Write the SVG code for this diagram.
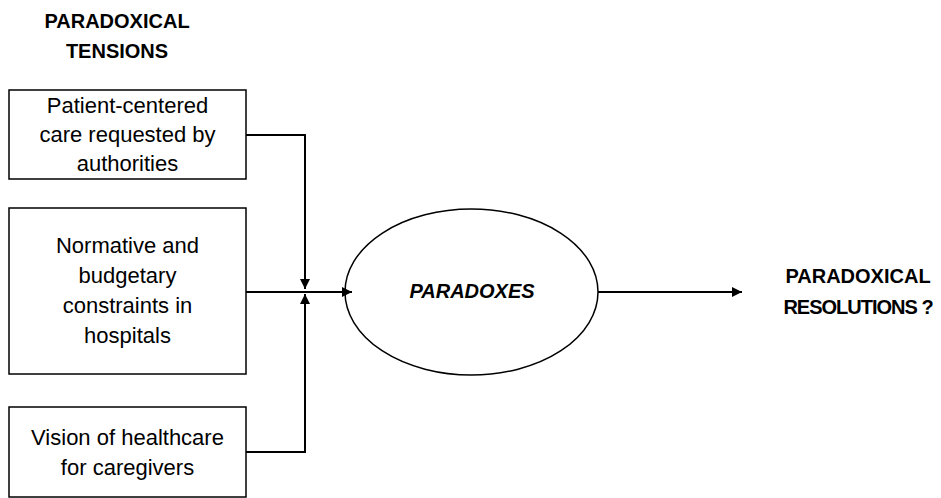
<svg xmlns="http://www.w3.org/2000/svg" width="941" height="498" viewBox="0 0 941 498">
<defs>
<style>
.box{fill:#fff;stroke:#000;stroke-width:1.5}
.t{font-family:"Liberation Sans",Arial,sans-serif;font-size:22px;fill:#000;text-anchor:middle}
.h{font-family:"Liberation Sans",Arial,sans-serif;font-size:20px;font-weight:bold;fill:#000;text-anchor:middle}
.c{fill:none;stroke:#000;stroke-width:2}
</style>
<marker id="ah" viewBox="0 0 10 10" refX="10" refY="5" markerWidth="5" markerHeight="5" orient="auto" markerUnits="strokeWidth">
<path d="M0,0 L10,5 L0,10 Z" fill="#000"/>
</marker>
</defs>
<rect width="941" height="498" fill="#fff"/>
<g id="header-tensions">
<text class="h" x="117" y="28">PARADOXICAL</text>
<text class="h" x="117" y="58">TENSIONS</text>
</g>
<g id="node-patient">
<rect class="box" x="9" y="90" width="237" height="89"/>
<text class="t" x="127.5" y="113">Patient-centered</text>
<text class="t" x="127.5" y="142">care requested by</text>
<text class="t" x="127.5" y="171">authorities</text>
</g>
<g id="node-normative">
<rect class="box" x="9" y="208" width="237" height="166"/>
<text class="t" x="127.5" y="253">Normative and</text>
<text class="t" x="127.5" y="283">budgetary</text>
<text class="t" x="127.5" y="313">constraints in</text>
<text class="t" x="127.5" y="343">hospitals</text>
</g>
<g id="node-vision">
<rect class="box" x="9" y="407" width="237" height="90"/>
<text class="t" x="127.5" y="445">Vision of healthcare</text>
<text class="t" x="127.5" y="475">for caregivers</text>
</g>
<g id="node-paradoxes">
<ellipse cx="471.5" cy="292" rx="126.5" ry="83" fill="#fff" stroke="#000" stroke-width="1.5"/>
<text class="h" x="472" y="298" font-style="italic">PARADOXES</text>
</g>
<g id="header-resolutions">
<text class="h" x="858" y="283">PARADOXICAL</text>
<text class="h" x="858" y="314" letter-spacing="-1">RESOLUTIONS ?</text>
</g>
<g id="connectors">
<path class="c" d="M246 135 H305 V289" marker-end="url(#ah)"/>
<path class="c" d="M246 452 H305 V294" marker-end="url(#ah)"/>
<path class="c" d="M246 292 H352" marker-end="url(#ah)"/>
<path class="c" d="M598 292 H742" marker-end="url(#ah)"/>
</g>
</svg>
